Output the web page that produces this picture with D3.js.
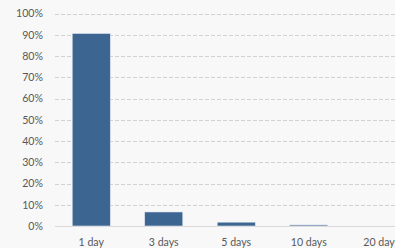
<!DOCTYPE html>
<html>
<head>
<meta charset="utf-8">
<script src="https://cdn.jsdelivr.net/npm/d3@7"></script>
<style>
  html, body { margin: 0; padding: 0; background: #f8f8f8; }
  #chart { width: 395px; height: 248px; }
  .axis text { font-family: Lato, sans-serif; font-size: 10.6px; fill: #595959; }
</style>
</head>
<body>
<div id="chart"></div>
<script>

// DATA

const categories = ["1 day", "3 days", "5 days", "10 days", "20 days"];
const shares = [90.6, 6.6, 1.8, 0.5, 0];
const yTicks = [0, 10, 20, 30, 40, 50, 60, 70, 80, 90, 100];

// MAKE SVG CANVAS

const width = 395;
const height = 248;
const margin = {top: 13.5, left: 55, right: -22.5, bottom: 22};
const svg = d3.select("#chart")
    .append("svg")
    .attr("width", width)
    .attr("height", height);

// SCALES

const xScale = d3.scaleBand()
    .domain(categories)
    .range([margin.left, width - margin.right])
    .paddingInner(0.475)
    .paddingOuter(0.2375);

const yScale = d3.scaleLinear()
    .domain([0, 100])
    .range([height - margin.bottom, margin.top]);

// GRID

svg.append("g")
    .selectAll("line")
    .data(yTicks.filter(function(d) { return d > 0; }))
    .enter()
    .append("line")
        .attr("x1", margin.left)
        .attr("x2", width)
        .attr("y1", function(d) { return Math.round(yScale(d)) + 0.5; })
        .attr("y2", function(d) { return Math.round(yScale(d)) + 0.5; })
        .attr("stroke", "#d2d2d2")
        .attr("stroke-dasharray", "4,2");

svg.append("line")
    .attr("x1", margin.left)
    .attr("x2", width)
    .attr("y1", Math.round(yScale(0)) + 0.5)
    .attr("y2", Math.round(yScale(0)) + 0.5)
    .attr("stroke", "#d9d9d9");

// AXIS

const yAxis = svg.append("g")
    .attr("class", "axis")
    .attr("transform", `translate(${margin.left - 12},0)`)
    .call(d3.axisLeft(yScale).tickValues(yTicks).tickSize(0).tickPadding(0)
        .tickFormat(function(d) { return d + "%"; }));
yAxis.select(".domain").remove();

const xAxis = svg.append("g")
    .attr("class", "axis")
    .attr("transform", `translate(0, ${height - margin.bottom})`)
    .call(d3.axisBottom(xScale).tickSize(0).tickPadding(12));
xAxis.select(".domain").remove();

// BARS

svg.selectAll("rect.bar")
    .data(categories)
    .enter()
    .append("rect")
        .attr("class", "bar")
        .attr("x", function(d) { return xScale(d); })
        .attr("y", function(d, i) { return yScale(shares[i]); })
        .attr("width", xScale.bandwidth())
        .attr("height", function(d, i) { return yScale(0) - yScale(shares[i]); })
        .attr("fill", "#3d6591")
        .attr("stroke", "#dfe6ee")
        .attr("stroke-width", 0.6);

</script>
</body>
</html>
